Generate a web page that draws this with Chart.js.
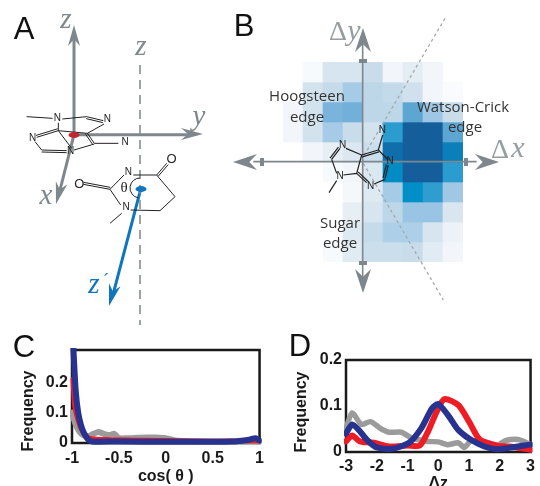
<!DOCTYPE html>
<html>
<head>
<meta charset="utf-8">
<title>Base pairing panels</title>
<script src="https://cdn.jsdelivr.net/npm/chart.js@4"></script>
<style>
  html, body { margin: 0; padding: 0; background: #fff; }
  #page { position: relative; width: 540px; height: 486px; overflow: hidden; }
  canvas { position: absolute; }
</style>
</head>
<body>
<div id="page">
  <canvas id="heat" width="180" height="200" style="left:283px;top:62px"></canvas>
  <canvas id="diagram" width="540" height="486" style="left:0;top:0"></canvas>
  <canvas id="chartC" width="270" height="161" style="left:0;top:325px"></canvas>
  <canvas id="chartD" width="255" height="161" style="left:285px;top:325px"></canvas>
</div>
<script>
// panel B, density per cell (top row first)
const heatColumns = [-4, -3, -2, -1, 0, 1, 2, 3, 4];
const heatRow0 = [0, .03, .15, .15, .2, .05, .1, .05, 0];
const heatRow1 = [0, .16, .21, .34, .24, .22, .17, .05, .02];
const heatRow2 = [.05, .16, .52, .55, .24, .24, .65, .38, .2];
const heatRow3 = [.05, .16, .34, .2, .16, .75, 1, 1, .65];
const heatRow4 = [0, .05, .09, .13, .19, .96, 1, 1, .92];
const heatRow5 = [0, 0, .03, .05, .13, .87, 1, 1, .75];
const heatRow6 = [0, 0, 0, .04, .12, .34, .85, .74, .37];
const heatRow7 = [0, 0, 0, .09, .15, .24, .4, .4, .14];
const heatRow8 = [0, 0, 0, .12, .21, .3, .3, .15, .07];
const heatRow9 = [0, 0, .03, .11, .19, .19, .2, .11, .05];
const heatRows = [heatRow0, heatRow1, heatRow2, heatRow3, heatRow4, heatRow5, heatRow6, heatRow7, heatRow8, heatRow9];

// panel C
const cosGrayX = [-1, -.96, -.9, -.83, -.77, -.72, -.66, -.6, -.55, -.5, -.4, -.3, -.2, -.1, 0, .1, .5, 1];
const cosGrayY = [.1, .06, .03, .022, .03, .036, .03, .026, .03, .016, .016, .017, .018, .018, .016, .008, .005, .005];
const cosRedX = [-.99, -.97, -.93, -.89, -.85, -.8, -.6, 0, .5, 1];
const cosRedY = [.21, .12, .07, .04, .024, .014, .011, .008, .006, .007];
const cosBlueX = [-.985, -.96, -.934, -.905, -.876, -.83, -.79, -.5, 0, .71, .89, .96, 1];
const cosBlueY = [.31, .17, .1, .06, .035, .012, .005, .005, .004, .005, .011, .016, .008];
const cosTicks = [-1, -.5, 0, .5, 1];

// panel D
const dzGrayX = [-3, -2.8, -2.5, -2.2, -1.9, -1.6, -1.2, -.85, -.33, 0, .3, .65, .85, 1.05, 1.5, 1.9, 2.2, 2.6, 3];
const dzGrayY = [.05, .085, .06, .066, .052, .043, .043, .03, .023, .022, .016, .02, .01, .023, .023, .014, .025, .027, .016];
const dzRedX = [-3, -2.8, -2.55, -2.1, -1.6, -1, -.6, -.33, -.05, .2, .65, 1, 1.35, 1.9, 2.3, 3];
const dzRedY = [.023, .036, .023, .02, .012, .014, .014, .045, .088, .115, .102, .066, .027, .014, .012, .005];
const dzBlueX = [-3, -2.8, -2.55, -2.3, -2, -1.5, -.95, -.55, -.2, 0, .35, .65, 1.05, 1.5, 1.9, 2.3, 3];
const dzBlueY = [.04, .06, .045, .025, .01, .007, .02, .052, .095, .104, .077, .048, .027, .012, .006, .009, .016];
const dzTicks = [-3, -2, -1, 0, 1, 2, 3];

const GRAY = '#9b9b9b';
const RED = '#ee1c25';
const BLUE = '#27338f';
const AXIS_GRAY = '#7d878c';
const ARROW_BLUE = '#0f75bc';

Chart.defaults.animation = false;
Chart.defaults.responsive = false;
Chart.defaults.devicePixelRatio = 1;
Chart.defaults.plugins.legend.display = false;
Chart.defaults.plugins.tooltip.enabled = false;

// white -> pale blue -> cyan blue -> dark blue
function shade(v) {
  const stops = [[0, 255, 255, 255], [.1, 228, 237, 244], [.2, 200, 220, 234], [.3, 173, 208, 232], [.4, 154, 196, 228],
    [.55, 114, 176, 218], [.65, 94, 166, 210], [.75, 42, 156, 207], [.85, 0, 144, 200], [.92, 10, 127, 186], [1, 19, 94, 155]];
  if (v <= 0) return 'rgba(255,255,255,0)';
  for (let i = 1; i < stops.length; i++) {
    if (v <= stops[i][0]) {
      const a = stops[i - 1], b = stops[i];
      const t = (v - a[0]) / (b[0] - a[0]);
      return `rgb(${Math.round(a[1] + t * (b[1] - a[1]))},${Math.round(a[2] + t * (b[2] - a[2]))},${Math.round(a[3] + t * (b[3] - a[3]))})`;
    }
  }
  return 'rgb(19,94,155)';
}

new Chart(document.getElementById('heat'), {
  type: 'bar',
  data: {
    labels: heatColumns,
    datasets: heatRows.map(row => ({
      data: row.map(() => 1),
      backgroundColor: row.map(shade),
      borderWidth: 0,
      barPercentage: 1,
      categoryPercentage: 1
    }))
  },
  options: {
    scales: {
      x: { stacked: true, display: false },
      y: { stacked: true, display: false, reverse: true, min: 0, max: 10 }
    }
  }
});

// diagram geometry is written in the 3x crop coordinates of each panel
const toA = (x, y) => ({ x: x / 3, y: y / 3 });
const toB = (x, y) => ({ x: 220 + x / 3, y: y / 3 });

const moleculeA = [
  [80, 350, 158, 355], [187, 357, 260, 350], [312, 372, 262, 400], [262, 400, 175, 392], [175, 392, 175, 368],
  [105, 425, 125, 450], [222, 450, 283, 432], [283, 430, 355, 430], [175, 392, 215, 445],
  [400, 525, 470, 525], [470, 525, 525, 590], [525, 590, 480, 632], [480, 632, 392, 630],
  [362, 615, 330, 568], [330, 568, 372, 525], [365, 640, 330, 670]
];
const doubleA = [
  [260, 350, 310, 362], [175, 392, 110, 412], [125, 450, 200, 452], [262, 400, 283, 430], [470, 525, 500, 490], [330, 568, 250, 553]
];
const moleculeB = [
  [378, 445, 425, 465], [335, 478, 350, 520], [370, 525, 410, 520], [425, 465, 410, 520],
  [475, 450, 505, 480], [495, 538, 462, 552], [475, 450, 488, 405], [350, 542, 327, 578]
];
const doubleB = [
  [360, 445, 335, 478], [425, 465, 475, 450], [505, 495, 495, 535], [440, 548, 410, 520]
];
const atomsA = [[172, 355, 'N'], [322, 357, 'N'], [98, 415, 'N'], [212, 455, 'N'], [375, 428, 'N'], [385, 517, 'N'], [378, 622, 'N'], [515, 478, 'O'], [238, 553, 'O']];
const atomsB = [[368, 437, 'N'], [360, 530, 'N'], [510, 483, 'N'], [452, 558, 'N'], [487, 392, 'N']];

function segs(list, to) {
  return list.flatMap(s => [to(s[0], s[1]), to(s[2], s[3]), { x: NaN, y: NaN }]);
}
function doubled(list) {
  return list.flatMap(s => {
    const len = Math.hypot(s[2] - s[0], s[3] - s[1]);
    const nx = -(s[3] - s[1]) / len * 6, ny = (s[2] - s[0]) / len * 6;
    return [s, [s[0] + nx, s[1] + ny, s[2] + nx, s[3] + ny]];
  });
}
function stroke(data, color, width, dash) {
  return { data, borderColor: color, borderWidth: width, borderDash: dash || [], showLine: true, pointRadius: 0, spanGaps: false, clip: false };
}

// drawn on the overlay chart: arrow heads, dots, labels
function head(ctx, x, y, ang, len, half, color) {
  ctx.save();
  ctx.translate(x, y);
  ctx.rotate(ang);
  ctx.fillStyle = color;
  ctx.beginPath();
  ctx.moveTo(0, 0);
  ctx.lineTo(-len, -half);
  ctx.lineTo(-len * .68, 0);
  ctx.lineTo(-len, half);
  ctx.closePath();
  ctx.fill();
  ctx.restore();
}
function label(ctx, text, x, y, font, color) {
  ctx.font = font;
  ctx.fillStyle = color;
  ctx.textAlign = 'center';
  ctx.textBaseline = 'middle';
  ctx.fillText(text, x, y);
}
const overlayPlugin = {
  id: 'overlay',
  afterDatasetsDraw(chart) {
    const ctx = chart.ctx;
    const serif = 'italic 29px "Liberation Serif"';
    const sans = '15px "Open Sans"';
    const atom = '10px "Liberation Sans"';
    const delta = '28px "Liberation Serif"';
    const deltaVar = 'italic 30px "Liberation Serif"';

    // A
    head(ctx, 74, 25, -Math.PI / 2, 21, 6, AXIS_GRAY);
    head(ctx, 203, 134, 0, 22, 6, AXIS_GRAY);
    head(ctx, 56, 204, Math.atan2(68, -18), 22, 6, AXIS_GRAY);
    head(ctx, 109, 306, Math.atan2(117, -32), 22, 6, ARROW_BLUE);
    atomsA.forEach(a => label(ctx, a[2], a[0] / 3, a[1] / 3, a[2] === 'O' ? '13px "Liberation Sans"' : atom, '#222'));
    label(ctx, 'θ', 124, 188, '15px "Liberation Serif"', '#222');
    ctx.strokeStyle = '#222';
    ctx.lineWidth = 1;
    ctx.beginPath();
    ctx.arc(140, 188, 10, Math.PI * .55, Math.PI * 1.5);
    ctx.stroke();
    ctx.fillStyle = '#c1272d';
    ctx.beginPath();
    ctx.ellipse(74, 135, 5.5, 3, 0, 0, Math.PI * 2);
    ctx.fill();
    ctx.fillStyle = ARROW_BLUE;
    ctx.beginPath();
    ctx.ellipse(141, 189, 5.5, 3, 0, 0, Math.PI * 2);
    ctx.fill();
    label(ctx, 'A', 24, 30, '31px "Liberation Sans"', '#111');
    label(ctx, 'z', 66, 20, serif, AXIS_GRAY);
    label(ctx, 'z', 141, 47, serif, AXIS_GRAY);
    label(ctx, 'y', 199, 117, serif, AXIS_GRAY);
    label(ctx, 'x', 46, 196, serif, AXIS_GRAY);
    label(ctx, 'z', 94, 285, serif, ARROW_BLUE);
    label(ctx, '´', 106, 281, '18px "Liberation Serif"', ARROW_BLUE);

    // B
    head(ctx, 233, 162, Math.PI, 24, 8, AXIS_GRAY);
    head(ctx, 499, 162, 0, 24, 8, AXIS_GRAY);
    head(ctx, 363, 28, -Math.PI / 2, 24, 8, AXIS_GRAY);
    head(ctx, 363, 293, Math.PI / 2, 24, 8, AXIS_GRAY);
    ctx.fillStyle = AXIS_GRAY;
    ctx.fillRect(260, 158, 4, 8);
    ctx.fillRect(464, 158, 4, 8);
    ctx.fillRect(359, 59, 8, 4);
    ctx.fillRect(359, 261, 8, 4);
    atomsB.forEach(a => label(ctx, a[2], 220 + a[0] / 3, a[1] / 3, atom, '#222'));
    label(ctx, 'B', 244, 27, '31px "Liberation Sans"', '#111');
    label(ctx, 'Δ', 338, 33, delta, '#959da1');
    label(ctx, 'y', 354, 32, deltaVar, '#959da1');
    label(ctx, 'Δ', 500, 151, delta, '#959da1');
    label(ctx, 'x', 518, 149, deltaVar, '#959da1');
    label(ctx, 'Hoogsteen', 307, 97, sans, '#333');
    label(ctx, 'edge', 307, 118, sans, '#333');
    label(ctx, 'Watson-Crick', 463, 108, sans, '#333');
    label(ctx, 'edge', 465, 128, sans, '#333');
    label(ctx, 'Sugar', 340, 224, sans, '#333');
    label(ctx, 'edge', 340, 244, sans, '#333');

    // panel letters of the lower row
    label(ctx, 'C', 24, 348, '31px "Liberation Sans"', '#111');
    label(ctx, 'D', 300, 347, '31px "Liberation Sans"', '#111');
  }
};

new Chart(document.getElementById('diagram'), {
  type: 'scatter',
  data: {
    datasets: [
      stroke(segs(moleculeA.concat(doubled(doubleA)), toA), '#222', 1),
      stroke(segs(moleculeB.concat(doubled(doubleB)), toB), '#222', 1.2),
      stroke(segs([[222, 410, 222, 100]], toA), AXIS_GRAY, 3),
      stroke(segs([[222, 404, 570, 404]], toA), AXIS_GRAY, 3),
      stroke(segs([[222, 404, 180, 570]], toA), AXIS_GRAY, 3),
      stroke(segs([[420, 195, 420, 975]], toA), AXIS_GRAY, 1.5, [9, 6]),
      stroke(segs([[422, 568, 340, 880]], toA), ARROW_BLUE, 3),
      stroke(segs([[100, 485, 770, 485], [428, 110, 428, 850]], toB), AXIS_GRAY, 1.6),
      stroke(segs([[675, 55, 430, 470], [430, 490, 670, 900]], toB), '#a3a8ab', 1.3, [3, 3])
    ]
  },
  options: {
    layout: { padding: 0 },
    scales: {
      x: { type: 'linear', display: false, min: 0, max: 540 },
      y: { type: 'linear', display: false, min: 0, max: 486, reverse: true }
    }
  },
  plugins: [overlayPlugin]
});

// black box around the lower plots, Frequency sits lower than the axis centre
const framePlugin = {
  id: 'frame',
  beforeDatasetsDraw(chart, args, opts) {
    const a = chart.chartArea, ctx = chart.ctx;
    ctx.save();
    ctx.strokeStyle = '#1a1a1a';
    ctx.lineWidth = 2.5;
    ctx.strokeRect(a.left, a.top, a.right - a.left, a.bottom - a.top);
    ctx.translate(opts.titleX, opts.titleY);
    ctx.rotate(-Math.PI / 2);
    label(ctx, 'Frequency', 0, 0, 'bold 16px "Liberation Sans"', '#1a1a1a');
    ctx.restore();
  }
};

function series(xs, ys, color, width, order) {
  return {
    data: xs.map((x, i) => ({ x, y: ys[i] })),
    borderColor: color,
    borderWidth: width,
    showLine: true,
    pointRadius: 0,
    tension: .25,
    borderJoinStyle: 'round',
    borderCapStyle: 'round',
    clip: 2,
    order
  };
}

function lowerChart(id, datasets, cfg) {
  const font = { family: '"Liberation Sans"', size: 16, weight: 'bold' };
  return new Chart(document.getElementById(id), {
    type: 'scatter',
    data: { datasets },
    options: {
      layout: { padding: { top: cfg.top, right: cfg.right, bottom: 0, left: 0 } },
      plugins: { frame: { titleX: cfg.titleX, titleY: cfg.titleY } },
      scales: {
        x: {
          type: 'linear', min: cfg.xTicks[0], max: cfg.xTicks[cfg.xTicks.length - 1],
          grid: { display: false, drawTicks: false, tickLength: 0 }, border: { display: false },
          afterBuildTicks: s => { s.ticks = cfg.xTicks.map(value => ({ value })); },
          afterFit: s => { s.height = cfg.xHeight; },
          ticks: { color: '#1a1a1a', font, padding: cfg.xPad, maxRotation: 0, callback: v => String(v) },
          title: { display: true, text: cfg.xTitle, color: '#1a1a1a', font, padding: { top: 0, bottom: cfg.titleBottom } }
        },
        y: {
          type: 'linear', min: 0, max: cfg.yMax,
          grid: { display: false, drawTicks: false, tickLength: 0 }, border: { display: false },
          afterBuildTicks: s => { s.ticks = [0, .1, .2].map(value => ({ value })); },
          afterFit: s => { s.width = cfg.yWidth; },
          ticks: { color: '#1a1a1a', font, padding: 4, callback: v => String(v) }
        }
      }
    },
    plugins: [framePlugin]
  });
}

lowerChart('chartC', [
  series(cosGrayX, cosGrayY, GRAY, 6, 3),
  series(cosRedX, cosRedY, RED, 5, 2),
  series(cosBlueX, cosBlueY, BLUE, 6, 1)
], { top: 25, right: 9, yWidth: 72, xHeight: 43, yMax: .306, xTicks: cosTicks, xPad: 6, titleBottom: 0, xTitle: 'cos( θ )', titleX: 29, titleY: 86 });

lowerChart('chartD', [
  series(dzGrayX, dzGrayY, GRAY, 5.5, 3),
  series(dzRedX, dzRedY, RED, 6, 2),
  series(dzBlueX, dzBlueY, BLUE, 6, 1)
], { top: 35, right: 5, yWidth: 61, xHeight: 34, yMax: .2, xTicks: dzTicks, xPad: 5, titleBottom: -7, xTitle: 'Δz', titleX: 17, titleY: 87 });
</script>
</body>
</html>
